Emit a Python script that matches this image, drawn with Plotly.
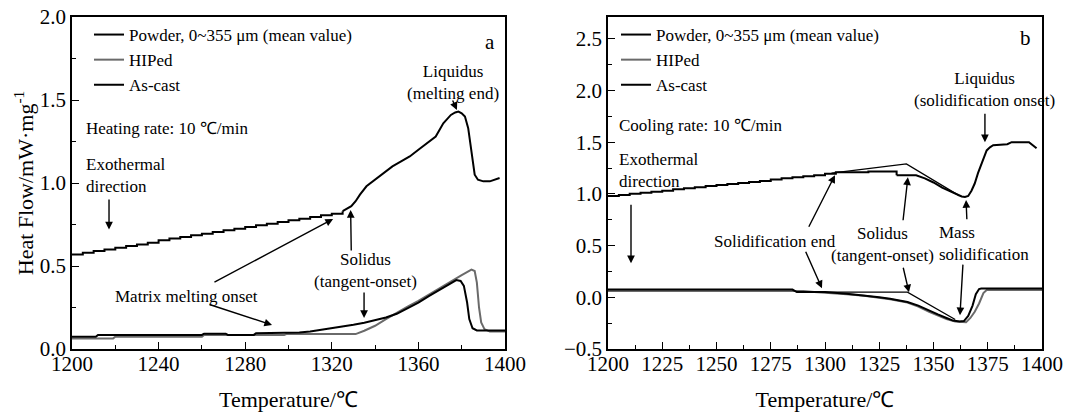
import plotly.graph_objects as go

FONT = "Liberation Serif, Times New Roman, serif"
BLACK = "#000000"
GRAY = "#6a6a6a"

series_names = ["Powder, 0~355 \u03bcm (mean value)", "HIPed", "As-cast"]

# ---------------- Panel a : heating ----------------
a_powder_step_T = [1200, 1205, 1210, 1215, 1220, 1225, 1230, 1235, 1240, 1245, 1250, 1255, 1260,
                   1265, 1270, 1275, 1280, 1285, 1290, 1295, 1300, 1305, 1310, 1315, 1320, 1325]
a_powder_step_V = [0.57, 0.58, 0.59, 0.60, 0.61, 0.62, 0.63, 0.64, 0.655, 0.665, 0.675, 0.685, 0.695,
                   0.705, 0.715, 0.725, 0.735, 0.745, 0.755, 0.765, 0.775, 0.785, 0.795, 0.805, 0.815, 0.83]
a_powder_T = [1325, 1327, 1329, 1331, 1333, 1336, 1340, 1344, 1348, 1352, 1356, 1360, 1364, 1368,
              1371.5, 1375, 1377, 1378.5, 1380, 1381.5, 1383, 1384, 1385, 1386, 1387.5, 1390, 1393, 1395, 1397.5]
a_powder_V = [0.83, 0.845, 0.86, 0.89, 0.93, 0.98, 1.02, 1.06, 1.10, 1.13, 1.16, 1.20, 1.24, 1.28,
              1.36, 1.41, 1.425, 1.43, 1.42, 1.40, 1.33, 1.24, 1.12, 1.05, 1.02, 1.01, 1.01, 1.02, 1.03]

a_hiped_T = [1200, 1219, 1220, 1260, 1261, 1298, 1299, 1331, 1335, 1340, 1345, 1350, 1355, 1360, 1365,
             1370, 1375, 1380, 1384.5, 1386, 1387, 1388, 1389, 1390.5, 1393, 1400]
a_hiped_V = [0.064, 0.064, 0.074, 0.074, 0.085, 0.085, 0.09, 0.09, 0.11, 0.14, 0.18, 0.22, 0.255, 0.29, 0.33,
             0.37, 0.41, 0.445, 0.478, 0.47, 0.40, 0.25, 0.16, 0.12, 0.105, 0.105]

a_ascast_T = [1200, 1211, 1212, 1260, 1261, 1271, 1272, 1284, 1285, 1300, 1305, 1310, 1315, 1320, 1325,
              1330, 1335, 1340, 1345, 1350, 1355, 1360, 1365, 1370, 1375, 1377.5, 1379.5, 1381, 1382.5,
              1383.5, 1385, 1387, 1400]
a_ascast_V = [0.074, 0.074, 0.085, 0.085, 0.092, 0.092, 0.085, 0.085, 0.095, 0.098, 0.10, 0.106, 0.115, 0.125,
              0.135, 0.146, 0.158, 0.175, 0.19, 0.212, 0.245, 0.28, 0.32, 0.36, 0.395, 0.415, 0.41, 0.38,
              0.28, 0.18, 0.125, 0.112, 0.112]

# ---------------- Panel b : cooling ----------------
b_powder_step_T = [1200, 1205, 1210, 1215, 1220, 1225, 1230, 1235, 1240, 1245, 1250, 1255, 1260, 1265,
                   1270, 1275, 1280, 1285, 1290, 1295, 1300, 1305, 1320, 1333]
b_powder_step_V = [0.98, 0.99, 1.0, 1.01, 1.02, 1.03, 1.045, 1.055, 1.065, 1.075, 1.085, 1.095, 1.105, 1.115,
                   1.125, 1.14, 1.15, 1.16, 1.17, 1.18, 1.195, 1.21, 1.215, 1.18]
b_powder_T = [1333, 1342, 1346, 1350, 1354, 1358, 1361, 1363, 1364.5, 1366, 1367.5, 1369, 1370.5, 1372,
              1373.5, 1374.5, 1376, 1377.5, 1384, 1386, 1394, 1396, 1397.5]
b_powder_V = [1.18, 1.18, 1.15, 1.11, 1.06, 1.02, 0.99, 0.975, 0.97, 0.98, 1.03, 1.10, 1.20, 1.29,
              1.38, 1.42, 1.45, 1.47, 1.48, 1.50, 1.50, 1.47, 1.44]

b_hiped_T = [1200, 1290, 1295, 1300, 1310, 1318, 1325, 1330, 1338, 1343, 1348, 1352, 1356, 1360, 1365,
             1367, 1369, 1371, 1373, 1374.5, 1400]
b_hiped_V = [0.06, 0.06, 0.05, 0.045, 0.03, 0.015, -0.005, -0.02, -0.05, -0.09, -0.14, -0.175, -0.21, -0.235,
             -0.24, -0.2, -0.14, -0.06, 0.04, 0.07, 0.07]

b_ascast_T = [1200, 1285, 1287, 1300, 1310, 1318, 1325, 1330, 1338, 1343, 1348, 1352, 1356, 1359, 1362,
              1364, 1366, 1368, 1369.5, 1371, 1372, 1400]
b_ascast_V = [0.075, 0.075, 0.05, 0.05, 0.035, 0.02, 0.0, -0.015, -0.045, -0.08, -0.13, -0.165, -0.2, -0.225,
              -0.235, -0.23, -0.18, -0.08, 0.03, 0.08, 0.085, 0.085]

# tangent constructions (panel b)
b_tangent_top_T = [1303, 1337.5, 1362]
b_tangent_top_V = [1.2, 1.29, 0.98]
b_tangent_low_T = [1295, 1338, 1360]
b_tangent_low_V = [0.05, 0.05, -0.215]

fig = go.Figure()


def add_series(xs, ys, color, name, xa, ya, legend, show, shape="linear", width=2.0, group=None):
    fig.add_trace(go.Scatter(
        x=xs, y=ys, mode="lines", name=name, xaxis=xa, yaxis=ya, legend=legend,
        showlegend=show, legendgroup=group or (legend + name),
        line=dict(color=color, width=width, shape=shape), hoverinfo="skip"))


# Panel a
add_series(a_powder_step_T, a_powder_step_V, BLACK, series_names[0], "x", "y", "legend", True, "hv")
add_series(a_powder_T, a_powder_V, BLACK, series_names[0], "x", "y", "legend", False)
add_series(a_hiped_T, a_hiped_V, GRAY, series_names[1], "x", "y", "legend", True)
add_series(a_ascast_T, a_ascast_V, BLACK, series_names[2], "x", "y", "legend", True)

# Panel b
add_series(b_powder_step_T, b_powder_step_V, BLACK, series_names[0], "x2", "y2", "legend2", True, "hv")
add_series(b_powder_T, b_powder_V, BLACK, series_names[0], "x2", "y2", "legend2", False)
add_series(b_hiped_T, b_hiped_V, GRAY, series_names[1], "x2", "y2", "legend2", True)
add_series(b_ascast_T, b_ascast_V, BLACK, series_names[2], "x2", "y2", "legend2", True)
add_series(b_tangent_top_T, b_tangent_top_V, BLACK, "tangent", "x2", "y2", "legend2", False, width=1.3, group="t1")
add_series(b_tangent_low_T, b_tangent_low_V, BLACK, "tangent", "x2", "y2", "legend2", False, width=1.3, group="t2")

W, H = 1091, 416
L, R, T, B = 72, 1042, 17, 349      # plot-area pixel box
PW, PH = R - L, B - T


def px_x(p):
    return (p - L) / PW


def px_y(p):
    return (B - p) / PH


ax_common = dict(
    showline=True, linecolor="black", linewidth=1.5, mirror=True, automargin=False,
    ticks="inside", ticklen=7, tickwidth=1.3, tickcolor="black",
    showgrid=False, zeroline=False, ticklabeloverflow="allow",
    tickfont=dict(family=FONT, size=21, color="black"),
    minor=dict(ticks="inside", ticklen=4, tickwidth=1.2, tickcolor="black", showgrid=False),
)
TITLE_FONT = dict(family=FONT, size=22, color="black")

fig.update_layout(
    width=W, height=H, margin=dict(l=L, r=W - R, t=T, b=H - B, pad=0),
    paper_bgcolor="white", plot_bgcolor="white",
    font=dict(family=FONT, color="black", size=17),
    xaxis=dict(ax_common, domain=[0, px_x(505)], range=[1200, 1400], dtick=40, ticklabelstandoff=-5,
               minor=dict(ax_common["minor"], dtick=20), anchor="y",
               title=dict(text="Temperature/\u2103", font=TITLE_FONT, standoff=17)),
    yaxis=dict(ax_common, domain=[0, 1], range=[0, 2.0], dtick=0.5, tickformat=".1f",
               minor=dict(ax_common["minor"], dtick=0.25), anchor="x",
               title=dict(text="Heat Flow/mW\u00b7mg<sup>-1</sup>", font=TITLE_FONT, standoff=0)),
    xaxis2=dict(ax_common, domain=[px_x(608), 1], range=[1200, 1400], dtick=25, ticklabelstandoff=-5,
                minor=dict(ax_common["minor"], dtick=12.5), anchor="y2",
                title=dict(text="Temperature/\u2103", font=TITLE_FONT, standoff=17)),
    yaxis2=dict(ax_common, domain=[0, 1], range=[-0.5, 2.71], dtick=0.5, tickformat=".1f",
                minor=dict(ax_common["minor"], dtick=0.25), anchor="x2"),
    legend=dict(x=px_x(89), y=px_y(17), xanchor="left", yanchor="top", bgcolor="rgba(0,0,0,0)",
                font=dict(family=FONT, size=17), tracegroupgap=0, itemwidth=30),
    legend2=dict(x=px_x(616), y=px_y(17), xanchor="left", yanchor="top", bgcolor="rgba(0,0,0,0)",
                 font=dict(family=FONT, size=17), tracegroupgap=0, itemwidth=30),
    showlegend=True,
)

anns = []


def text(x, y, s, xr, yr, anchor="center", size=17, align="center"):
    anns.append(dict(x=x, y=y, xref=xr, yref=yr, text=s, showarrow=False, xanchor=anchor, align=align,
                     yanchor="middle", font=dict(family=FONT, size=size, color="black")))


def arrow(tx, ty, hx, hy, xr, yr):
    anns.append(dict(x=hx, y=hy, ax=tx, ay=ty, xref=xr, yref=yr, axref=xr, ayref=yr, text="",
                     showarrow=True, arrowhead=2, arrowsize=1.1, arrowwidth=1.4, arrowcolor="black",
                     standoff=0, startstandoff=0))


# panel a texts
text(1393, 1.85, "a", "x", "y", size=21)
text(1376, 1.608, "Liquidus<br>(melting end)", "x", "y")
text(1205.5, 1.33, "Heating rate: 10 \u2103/min", "x", "y", anchor="left")
text(1205.5, 1.045, "Exothermal<br>direction", "x", "y", anchor="left", align="left")
text(1253, 0.319, "Matrix melting onset", "x", "y")
text(1335.7, 0.471, "Solidus<br>(tangent-onset)", "x", "y")
# panel a arrows
arrow(1375.5, 1.506, 1377.8, 1.44, "x", "y")
arrow(1217.1, 0.91, 1217.1, 0.72, "x", "y")
arrow(1265.1, 0.398, 1320.6, 0.783, "x", "y")
arrow(1262.8, 0.271, 1292.4, 0.145, "x", "y")
arrow(1329.0, 0.584, 1328.7, 0.837, "x", "y")
arrow(1334.9, 0.349, 1334.9, 0.187, "x", "y")

# panel b texts
text(1392.4, 2.51, "b", "x2", "y2", size=21)
text(1373.3, 2.007, "Liquidus<br>(solidification onset)", "x2", "y2")
text(1204.1, 1.663, "Cooling rate: 10 \u2103/min", "x2", "y2", anchor="left")
text(1204.1, 1.223, "Exothermal<br>direction", "x2", "y2", anchor="left", align="left")
text(1277, 0.535, "Solidification end", "x2", "y2")
text(1326.7, 0.513, "Solidus<br>(tangent-onset)", "x2", "y2")
text(1351.6, 0.522, "Mass<br>solidification", "x2", "y2", anchor="left", align="left")
# panel b arrows
arrow(1373.7, 1.79, 1373.7, 1.5, "x2", "y2")
arrow(1210.6, 0.909, 1210.6, 0.329, "x2", "y2")
arrow(1292.2, 0.667, 1304.6, 1.18, "x2", "y2")
arrow(1290.8, 0.455, 1298.6, 0.087, "x2", "y2")
arrow(1335.9, 0.73, 1338.2, 1.16, "x2", "y2")
arrow(1335.9, 0.30, 1338.7, 0.048, "x2", "y2")
arrow(1365.4, 0.74, 1365.0, 0.94, "x2", "y2")
arrow(1363.6, 0.33, 1362.2, -0.174, "x2", "y2")

fig.update_layout(annotations=anns)
# remove the browser's default 8 px page margin so the figure sits at the window origin
fig.write_html("out.html", config={"displayModeBar": False},
               post_script="document.body.style.margin='0px';")
